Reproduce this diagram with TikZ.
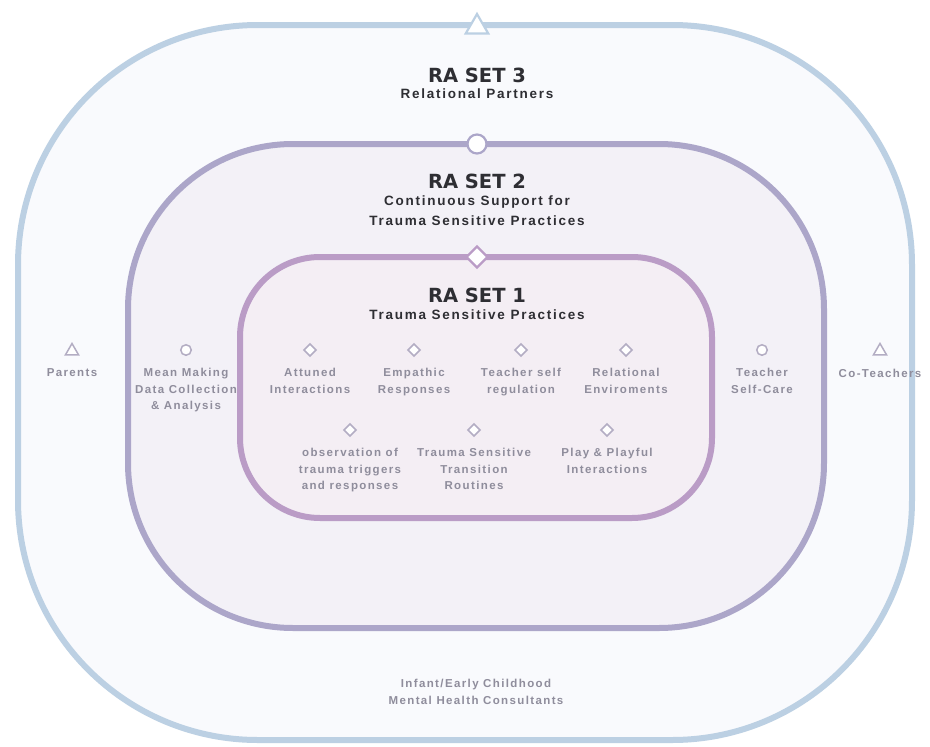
\documentclass[tikz,border=0pt]{standalone}
\usepackage{fontspec}
\setmainfont{Liberation Sans}
\newfontfamily\itemfont[LetterSpace=12]{Liberation Sans}
\newfontfamily\subfont[LetterSpace=13]{Liberation Sans}
\newfontfamily\titlefont{DejaVu Sans}
\usetikzlibrary{positioning,shapes.geometric}
\definecolor{raouter}{HTML}{BCD0E3}
\definecolor{ramiddle}{HTML}{ACA6C9}
\definecolor{rainner}{HTML}{BA9CC6}
\definecolor{raouterfill}{HTML}{F9FAFD}
\definecolor{ramiddlefill}{HTML}{F3F1F7}
\definecolor{rainnerfill}{HTML}{F4EEF4}
\definecolor{raicon}{HTML}{B3ADC3}
\definecolor{ragray}{HTML}{8F8D9C}
\definecolor{radark}{HTML}{2E2E33}
\begin{document}
\begin{tikzpicture}[x=1pt,y=1pt,
    ring/.style={line width=6pt,rounded corners=#1},
    settitle/.style={font=\titlefont\fontsize{19.5}{22}\selectfont\bfseries,text=radark,inner sep=0pt},
    setsub/.style={font=\subfont\fontsize{13.5}{20}\selectfont\bfseries,text=radark,align=center,inner sep=0pt},
    itemtext/.style={font=\itemfont\fontsize{11.5}{16.5}\selectfont\bfseries,text=ragray,align=center,inner sep=0pt},
    bigtri/.style={regular polygon,regular polygon sides=3,draw=raouter,fill=white,line width=2.2pt,minimum size=26pt,inner sep=0pt},
    bigcirc/.style={circle,draw=ramiddle,fill=white,line width=2.2pt,minimum size=19pt,inner sep=0pt},
    bigdia/.style={diamond,draw=rainner,fill=white,line width=2.2pt,minimum size=22pt,inner sep=0pt},
    smalltri/.style={regular polygon,regular polygon sides=3,draw=raicon,fill=white,line width=1.5pt,minimum size=15pt,inner sep=0pt},
    smallcirc/.style={circle,draw=raicon,fill=white,line width=1.5pt,minimum size=10.5pt,inner sep=0pt},
    smalldia/.style={diamond,draw=raicon,fill=white,line width=1.6pt,minimum size=12.5pt,inner sep=0pt}
  ]
    \useasboundingbox (0,0) rectangle (930,-747);
    \fill[white] (0,0) rectangle (930,-747);

    % rings
    \draw[ring=240pt,draw=raouter,fill=raouterfill] (18,-25) rectangle (912,-740);
    \draw[ring=165pt,draw=ramiddle,fill=ramiddlefill] (128,-144) rectangle (824,-628);
    \draw[ring=80pt,draw=rainner,fill=rainnerfill] (240,-257) rectangle (712,-518);

    \node[bigtri] (mark3) at (477,-27) {};
    \node[bigcirc] (mark2) at (477,-144) {};
    \node[bigdia] (mark1) at (477,-257) {};

    % set titles
    \node[settitle] (set3) at (477,-75) {RA SET 3};
    \node[setsub,below=6pt of set3] (set3sub) {Relational Partners};
    \node[settitle] (set2) at (477,-181) {RA SET 2};
    \node[setsub,below=7pt of set2] (set2sub) {Continuous Support for\\Trauma Sensitive Practices};
    \node[settitle] (set1) at (477,-295) {RA SET 1};
    \node[setsub,below=7pt of set1] (set1sub) {Trauma Sensitive Practices};

    % set 3
    \node[smalltri] (parentsicon) at (72,-351) {};
    \node[itemtext,below=13pt of parentsicon] (parents) {Parents};
    \node[smalltri] (coteachicon) at (880,-351) {};
    \node[itemtext,below=13pt of coteachicon] (coteach) {Co-Teachers};
    \node[itemtext] (consult) at (476,-692) {Infant/Early Childhood\\Mental Health Consultants};

    % set 2
    \node[smallcirc] (meanicon) at (186,-350) {};
    \node[itemtext,below=12pt of meanicon] (mean) {Mean Making\\Data Collection\\\& Analysis};
    \node[smallcirc] (selfcareicon) at (762,-350) {};
    \node[itemtext,below=12pt of selfcareicon] (selfcare) {Teacher\\Self-Care};

    % set 1
    \node[smalldia] (attunedicon) at (310,-350) {};
    \node[itemtext,below=11pt of attunedicon] (attuned) {Attuned\\Interactions};
    \node[smalldia] (empathicicon) at (414,-350) {};
    \node[itemtext,below=11pt of empathicicon] (empathic) {Empathic\\Responses};
    \node[smalldia] (regicon) at (521,-350) {};
    \node[itemtext,below=11pt of regicon] (reg) {Teacher self\\regulation};
    \node[smalldia] (envicon) at (626,-350) {};
    \node[itemtext,below=11pt of envicon] (env) {Relational\\Enviroments};
    \node[smalldia] (obsicon) at (350,-430) {};
    \node[itemtext,below=11pt of obsicon] (obs) {observation of\\trauma triggers\\and responses};
    \node[smalldia] (routicon) at (474,-430) {};
    \node[itemtext,below=11pt of routicon] (rout) {Trauma Sensitive\\Transition\\Routines};
    \node[smalldia] (playicon) at (607,-430) {};
    \node[itemtext,below=11pt of playicon] (play) {Play \& Playful\\Interactions};
  \end{tikzpicture}
\end{document}
